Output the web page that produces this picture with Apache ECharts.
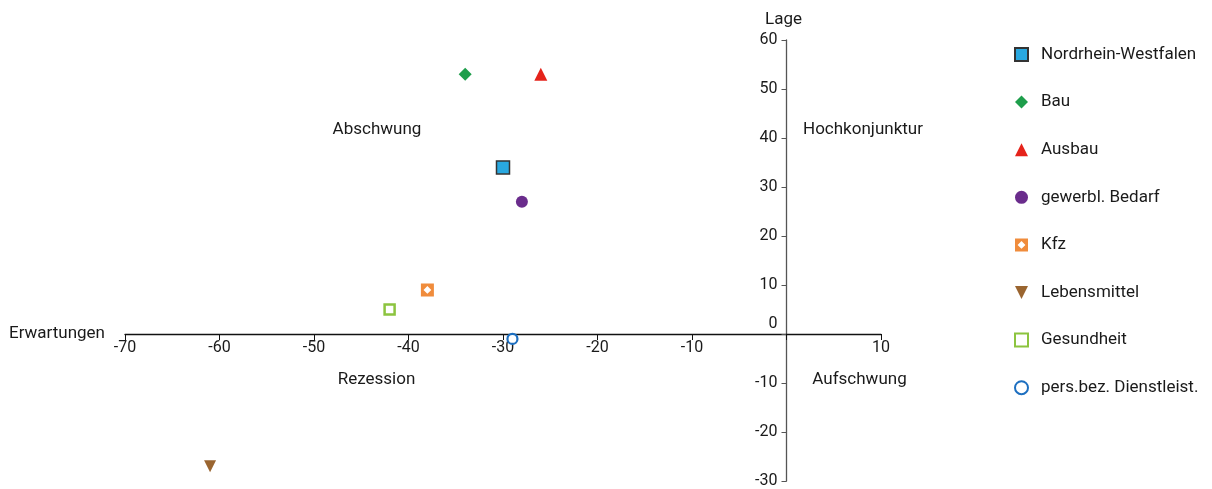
<!DOCTYPE html>
<html>
<head>
<meta charset="utf-8">
<script src="https://cdn.jsdelivr.net/npm/echarts@6/dist/echarts.min.js"></script>
<style>
  html, body { margin: 0; padding: 0; background: #fff; }
  #chart { width: 1212px; height: 489px; }
</style>
</head>
<body>
<div id="chart"></div>
<script>
// Branchen: Erwartungen (x) und Lage (y)
const seriesNames = ['Nordrhein-Westfalen', 'Bau', 'Ausbau', 'gewerbl. Bedarf', 'Kfz', 'Lebensmittel', 'Gesundheit', 'pers.bez. Dienstleist.'];
const erwartungen = [-30, -34, -26, -28, -38, -61, -42, -29];
const lage = [34, 53, 53, 27, 9, -27, 5, -1];
const xTicks = [-70, -60, -50, -40, -30, -20, -10, 0, 10];
const yTicks = [-30, -20, -10, 0, 10, 20, 30, 40, 50, 60];
const quadrantLabels = ['Abschwung', 'Hochkonjunktur', 'Rezession', 'Aufschwung'];

const FONT = 'Roboto, "Liberation Sans", sans-serif';
const TXT = '#1a1a1a';
const TICK_FS = 16;
const TEXT_FS = 17;

// Plot area in pixels
const GRID = { left: 125, right: 331, top: 40, bottom: 8 };
const W = 1212, H = 489;
const plotW = W - GRID.left - GRID.right;
const plotH = H - GRID.top - GRID.bottom;
const xMin = xTicks[0], xMax = xTicks[xTicks.length - 1];
const yMin = yTicks[0], yMax = yTicks[yTicks.length - 1];
// Axes cross at zero: shift them from the grid edges onto the zero lines
const xAxisOffset = -plotH * (0 - yMin) / (yMax - yMin);
const yAxisOffset = -plotW * (0 - xMin) / (xMax - xMin);

// Kfz: oranges Quadrat mit ausgesparter Raute
const kfzPath = 'path://M0,0L10,0L10,10L0,10Z M5,2L2,5L5,8L8,5Z';

const styles = [
  { symbol: 'rect', size: 13, item: { color: '#29A8E0', borderColor: '#333', borderWidth: 1.5 } },
  { symbol: 'diamond', size: 13, item: { color: '#1E9E4B' } },
  { symbol: 'triangle', size: 13, item: { color: '#E5231B' } },
  { symbol: 'circle', size: 12, item: { color: '#6A2C8C' } },
  { symbol: kfzPath, size: 13, item: { color: '#F08C3C' } },
  { symbol: 'path://M0,0L10,0L5,10Z', size: 12, item: { color: '#9A6530' } },
  { symbol: 'rect', size: 10, item: { color: '#fff', borderColor: '#8CC43F', borderWidth: 2.5 } },
  { symbol: 'circle', size: 10, item: { color: '#fff', borderColor: '#1D6FC0', borderWidth: 2.2 } }
];

const series = seriesNames.map((name, i) => ({
  name,
  type: 'scatter',
  data: [[erwartungen[i], lage[i]]],
  symbol: styles[i].symbol,
  symbolSize: styles[i].size,
  itemStyle: Object.assign({ opacity: 1 }, styles[i].item),
  emphasis: { disabled: true }
}));

const chart = echarts.init(document.getElementById('chart'), null, { renderer: 'canvas' });

const quadPos = [
  { x: 377, y: 130 },
  { x: 863, y: 130 },
  { x: 376.5, y: 380 },
  { x: 859.5, y: 380 }
];

chart.setOption({
  animation: false,
  backgroundColor: '#fff',
  textStyle: { fontFamily: FONT, color: TXT },
  grid: Object.assign({ containLabel: false, outerBoundsMode: 'none' }, GRID),
  xAxis: {
    type: 'value',
    position: 'bottom',
    offset: xAxisOffset,
    min: xMin, max: xMax, interval: 10,
    name: 'Erwartungen',
    nameLocation: 'start',
    nameGap: 20,
    nameTextStyle: { fontFamily: FONT, fontSize: TEXT_FS, color: TXT, padding: [0, 0, 8, 0] },
    axisLine: { onZero: false, lineStyle: { color: '#111', width: 1.3 } },
    axisTick: { show: true, inside: false, length: 6, lineStyle: { color: '#111' } },
    axisLabel: {
      fontFamily: FONT, fontSize: TICK_FS, color: TXT, margin: 6,
      formatter: v => (v === 0 ? '' : String(v))
    },
    splitLine: { show: false }
  },
  yAxis: {
    type: 'value',
    position: 'left',
    offset: yAxisOffset,
    min: yMin, max: yMax, interval: 10,
    name: 'Lage',
    nameLocation: 'end',
    nameGap: 12,
    nameTextStyle: { fontFamily: FONT, fontSize: TEXT_FS, color: TXT, align: 'center', padding: [0, 6, 0, 0] },
    axisLine: { onZero: false, lineStyle: { color: '#555', width: 1.3 } },
    axisTick: { show: true, inside: false, length: 5, lineStyle: { color: '#555' } },
    axisLabel: {
      fontFamily: FONT, fontSize: TICK_FS, color: TXT, margin: 9,
      formatter: v => (v === 0 ? '{z|0}' : String(v)),
      rich: { z: { fontFamily: FONT, fontSize: TICK_FS, color: TXT, padding: [0, 0, 20, 0] } }
    },
    splitLine: { show: false }
  },
  legend: {
    orient: 'vertical',
    left: 1009,
    top: 41,
    itemWidth: 13,
    itemHeight: 13,
    itemGap: 30.6,
    selectedMode: false,
    textStyle: { fontFamily: FONT, fontSize: TEXT_FS, color: TXT, padding: [0, 0, 0, 8] },
    data: seriesNames
  },
  graphic: quadrantLabels.map((t, i) => ({
    type: 'text',
    x: quadPos[i].x,
    y: quadPos[i].y,
    silent: true,
    style: { text: t, font: TEXT_FS + 'px ' + FONT, fill: TXT, align: 'center', verticalAlign: 'middle' }
  })),
  series
});
</script>
</body>
</html>
